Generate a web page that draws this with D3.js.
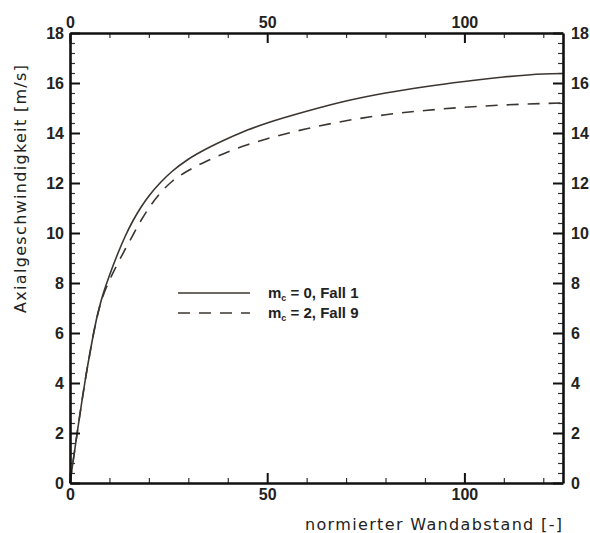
<!DOCTYPE html>
<html>
<head>
<meta charset="utf-8">
<script src="https://cdn.jsdelivr.net/npm/d3@7"></script>
<style>
  body { margin: 0; background: #fff; }
  svg { display: block; }
  .tick text { font-family: "Liberation Sans", Arial, sans-serif; font-weight: bold; font-size: 16px; fill: #222; }
  .axis-title { font-family: "DejaVu Sans", Verdana, sans-serif; font-size: 16px; fill: #222; }
  .legend text { font-family: "Liberation Sans", Arial, sans-serif; font-weight: bold; font-size: 15px; fill: #222; }
</style>
</head>
<body>
<div id="chart"></div>
<script>
// wall distance (normalised) and axial velocity for both cases
const wallDist = [0, 1, 2, 3, 4, 5, 6, 7, 8, 10, 12, 14, 16, 18, 20, 23, 26, 30, 35, 40, 45, 50, 60, 70, 80, 90, 100, 110, 120, 125];
const fall1 = [0, 1.1, 2.2, 3.25, 4.25, 5.15, 6.0, 6.75, 7.35, 8.3, 9.13, 9.87, 10.5, 11.03, 11.48, 12.03, 12.48, 12.95, 13.4, 13.78, 14.12, 14.4, 14.87, 15.28, 15.6, 15.85, 16.06, 16.24, 16.36, 16.38];
const fall9 = [0, 1.1, 2.2, 3.25, 4.25, 5.15, 6.0, 6.72, 7.3, 8.1, 8.75, 9.35, 9.93, 10.5, 11.0, 11.62, 12.08, 12.5, 12.9, 13.24, 13.53, 13.77, 14.17, 14.49, 14.73, 14.9, 15.03, 15.12, 15.18, 15.2];
const xMajor = [0, 50, 100];
const yMajor = [0, 2, 4, 6, 8, 10, 12, 14, 16, 18];
const legendLabels = [["m", "c", " = 0, Fall 1"], ["m", "c", " = 2, Fall 9"]];

const margin = { top: 33, right: 27, bottom: 50, left: 70 },
    width = 590 - margin.left - margin.right,
    height = 533 - margin.top - margin.bottom;

const x = d3.scaleLinear().domain([0, 125]).range([0, width]);
const y = d3.scaleLinear().domain([0, 18]).range([height, 0]);

const svg = d3.select("#chart").append("svg")
    .attr("width", 590)
    .attr("height", 533)
  .append("g")
    .attr("transform", `translate(${margin.left},${margin.top})`);

const xMinor = d3.range(0, 126, 10).filter(v => v % 50 !== 0);
const yMinor = d3.range(0, 91, 2).map(v => v / 5).filter(v => Math.abs(v % 2) > 1e-6);

const lineColor = "#3b3631";

// curves
const series = [fall1, fall9];
const line = d3.line()
    .curve(d3.curveMonotoneX)
    .x((d, i) => x(wallDist[i]))
    .y(d => y(d));

svg.selectAll(".curve")
    .data(series)
  .join("path")
    .attr("class", "curve")
    .attr("fill", "none")
    .attr("stroke", lineColor)
    .attr("stroke-width", 1.6)
    .attr("stroke-dasharray", (d, i) => i === 1 ? "12,9" : null)
    .attr("d", line);

// axes: major ticks with labels, minor ticks without
const styleAxis = g => g
    .call(g => g.select(".domain").attr("stroke", "#111").attr("stroke-width", 2.6))
    .call(g => g.selectAll(".tick line").attr("stroke", "#111").attr("stroke-width", 2));

const minorAxis = g => g
    .call(g => g.select(".domain").remove())
    .call(g => g.selectAll(".tick line").attr("stroke", "#333").attr("stroke-width", 1.2));

svg.append("g").attr("transform", `translate(0,${height})`)
    .call(d3.axisBottom(x).tickValues(xMinor).tickSize(-5).tickFormat(""))
    .call(minorAxis);
svg.append("g")
    .call(d3.axisTop(x).tickValues(xMinor).tickSize(-5).tickFormat(""))
    .call(minorAxis);
svg.append("g")
    .call(d3.axisLeft(y).tickValues(yMinor).tickSize(-5).tickFormat(""))
    .call(minorAxis);
svg.append("g").attr("transform", `translate(${width},0)`)
    .call(d3.axisRight(y).tickValues(yMinor).tickSize(-5).tickFormat(""))
    .call(minorAxis);

svg.append("g").attr("transform", `translate(0,${height})`)
    .call(d3.axisBottom(x).tickValues(xMajor).tickSize(-10).tickPadding(6).tickSizeOuter(0))
    .call(styleAxis);
svg.append("g")
    .call(d3.axisTop(x).tickValues(xMajor).tickSize(-10).tickPadding(5).tickSizeOuter(0))
    .call(styleAxis);
svg.append("g")
    .call(d3.axisLeft(y).tickValues(yMajor).tickSize(-10).tickPadding(6).tickSizeOuter(0))
    .call(styleAxis);
svg.append("g").attr("transform", `translate(${width},0)`)
    .call(d3.axisRight(y).tickValues(yMajor).tickSize(-10).tickPadding(8).tickSizeOuter(0))
    .call(styleAxis);

// axis titles
svg.append("text")
    .attr("class", "axis-title")
    .attr("x", width - 258)
    .attr("y", height + 47)
    .attr("textLength", 257)
    .attr("lengthAdjust", "spacing")
    .text("normierter Wandabstand [-]");

svg.append("text")
    .attr("class", "axis-title")
    .attr("x", -124)
    .attr("y", 0)
    .attr("textLength", 248)
    .attr("lengthAdjust", "spacing")
    .attr("transform", `translate(${-44},${156}) rotate(-90)`)
    .text("Axialgeschwindigkeit [m/s]");

// legend
const legend = svg.append("g").attr("class", "legend")
    .attr("transform", `translate(108,260)`);

const item = legend.selectAll("g")
    .data(legendLabels)
  .join("g")
    .attr("transform", (d, i) => `translate(0,${i * 20})`);

item.append("line")
    .attr("x1", 0).attr("x2", 72)
    .attr("stroke", lineColor)
    .attr("stroke-width", 1.6)
    .attr("stroke-dasharray", (d, i) => i === 1 ? "12,9" : null);

const t = item.append("text")
    .attr("x", 90)
    .attr("y", 5);
t.append("tspan").text(d => d[0]);
t.append("tspan").attr("font-size", "9px").attr("dy", 3).text(d => d[1]);
t.append("tspan").attr("dy", -3).text(d => d[2]);
</script>
</body>
</html>
